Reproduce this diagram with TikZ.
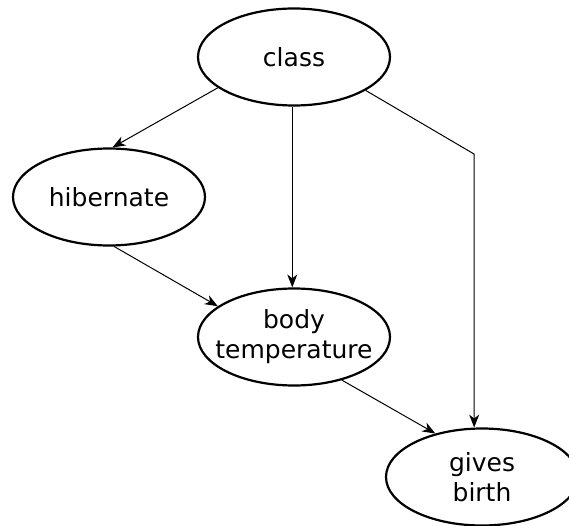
\documentclass[tikz,border=0pt]{standalone}
\usepackage{fontspec}
\setmainfont{DejaVu Sans}
\usetikzlibrary{arrows.meta,shapes.geometric,positioning}

\begin{document}
\begin{tikzpicture}[x=1pt,y=-1pt,
  var/.style={draw, ellipse, line width=2.2pt, inner sep=0pt,
    minimum width=192pt, minimum height=97pt, align=center,
    font=\fontsize{25}{30}\selectfont},
  edge/.style={-{Stealth[length=13pt,width=10pt,inset=4pt]}, line width=1pt}]
\useasboundingbox (0,0) rectangle (569,526);

\node[var] (class) at (294,57)  {class};
\node[var] (hib)   at (109,197) {hibernate};
\node[var, inner xsep=-14pt] (body) at (294,337) {body\\temperature};
\node[var] (birth) at (482,477) {gives\\birth};
\coordinate (bend) at (474,154);

\draw[edge] (class.202) -- (hib.86);
\draw[edge] (class.268) -- (body.92);
\draw[edge] (class.335) -- (bend) -- (birth.99);
\draw[edge] (hib.276) -- (body.158);
\draw[edge] (body.318) -- (birth.137);

\end{tikzpicture}
\end{document}
